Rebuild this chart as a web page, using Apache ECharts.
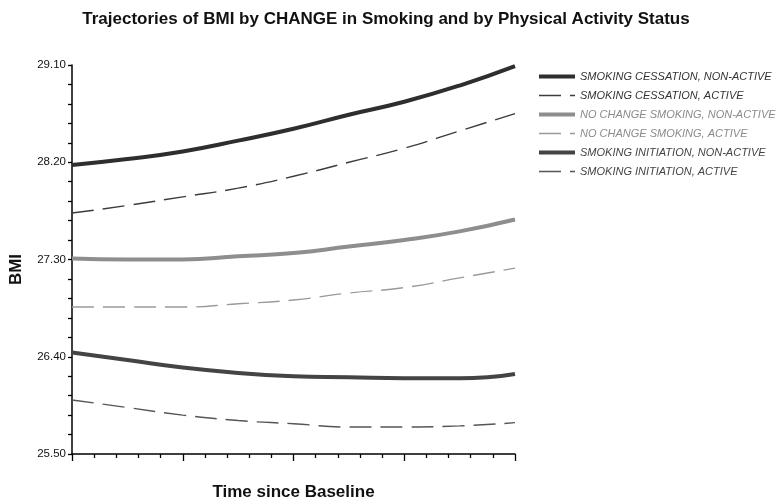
<!DOCTYPE html>
<html><head><meta charset="utf-8">
<script src="https://cdn.jsdelivr.net/npm/echarts@6/dist/echarts.min.js"></script>
<style>html,body{margin:0;padding:0;background:#fff}#c{width:782px;height:500px}</style>
</head><body><div id="c"></div>
<script>
const times = [0, 2.5, 5, 7.5, 10, 12.5, 15, 17.5, 20];
const seriesNames = [
  'SMOKING CESSATION, NON-ACTIVE',
  'SMOKING CESSATION, ACTIVE',
  'NO CHANGE SMOKING, NON-ACTIVE',
  'NO CHANGE SMOKING, ACTIVE',
  'SMOKING INITIATION, NON-ACTIVE',
  'SMOKING INITIATION, ACTIVE'
];
const cessationNonActive = [28.175, 28.23, 28.30, 28.40, 28.51, 28.64, 28.76, 28.91, 29.09];
const cessationActive    = [27.73, 27.80, 27.88, 27.96, 28.07, 28.20, 28.33, 28.49, 28.65];
const noChangeNonActive  = [27.31, 27.30, 27.30, 27.33, 27.36, 27.42, 27.48, 27.56, 27.67];
const noChangeActive     = [26.86, 26.86, 26.86, 26.89, 26.925, 26.99, 27.04, 27.13, 27.22];
const initiationNonActive= [26.44, 26.37, 26.30, 26.25, 26.22, 26.21, 26.20, 26.20, 26.24];
const initiationActive   = [26.00, 25.93, 25.86, 25.81, 25.78, 25.75, 25.75, 25.76, 25.79];
const yTickLabels = [25.5, 26.4, 27.3, 28.2, 29.1];

const values = [cessationNonActive, cessationActive, noChangeNonActive, noChangeActive, initiationNonActive, initiationActive];
const styles = [
  {color:'#2e2e2e', width:4, type:'solid'},
  {color:'#3c3c3c', width:1.4, type:[22,9]},
  {color:'#8e8e8e', width:4, type:'solid'},
  {color:'#9a9a9a', width:1.4, type:[22,9]},
  {color:'#444444', width:4, type:'solid'},
  {color:'#555555', width:1.4, type:[22,9]}
];
const textColors = ['#333','#333','#8a8a8a','#8a8a8a','#444','#444'];

const yMinorTicks = [];
for (let i = 0; i < yTickLabels.length - 1; i++) {
  const a = yTickLabels[i], b = yTickLabels[i+1];
  for (let k = 0; k < 5; k++) yMinorTicks.push(+(a + (b - a) * k / 5).toFixed(3));
}
yMinorTicks.push(yTickLabels[yTickLabels.length-1]);

const chart = echarts.init(document.getElementById('c'));
chart.setOption({
  animation: false,
  backgroundColor: '#fff',
  title: {
    text: 'Trajectories of BMI by CHANGE in Smoking and by Physical Activity Status',
    left: 381, top: 6, textAlign: 'center',
    textStyle: {fontFamily: 'Liberation Sans', fontWeight: 'bold', fontSize: 17, color: '#111'}
  },
  legend: {
    orient: 'vertical', left: 532, top: 66,
    itemWidth: 36, itemHeight: 10, itemGap: 8,
    itemStyle: {opacity: 0},
    lineStyle: {width: 'inherit'},
    data: seriesNames.map((n, i) => ({name: n, textStyle: {color: textColors[i]}})),
    textStyle: {fontFamily: 'Liberation Sans', fontStyle: 'italic', fontSize: 11, color: '#333'}
  },
  grid: {left: 72, right: 267, top: 65, bottom: 46, outerBoundsMode: 'none'},
  xAxis: {
    type: 'value', min: 0, max: 20, interval: 5,
    name: 'Time since Baseline', nameLocation: 'middle', nameGap: 30,
    nameTextStyle: {fontFamily: 'Liberation Sans', fontWeight: 'bold', fontSize: 17, color: '#111'},
    axisLine: {lineStyle: {color: '#000', width: 1.5}},
    axisTick: {show: true, length: 7, lineStyle: {color: '#000', width: 1.3}},
    minorTick: {show: true, splitNumber: 5, length: 4, lineStyle: {color: '#000', width: 1.3}},
    axisLabel: {show: false},
    splitLine: {show: false}, minorSplitLine: {show: false}
  },
  yAxis: {
    type: 'value', min: 25.5, max: 29.1,
    name: 'BMI', nameLocation: 'middle', nameGap: 47, nameRotate: 90,
    nameTextStyle: {fontFamily: 'Liberation Sans', fontWeight: 'bold', fontSize: 17, color: '#111', padding: [0, 0, 0, -20]},
    axisLine: {show: true, lineStyle: {color: '#000', width: 1.5}},
    axisTick: {show: true, customValues: yMinorTicks, length: 4, lineStyle: {color: '#000', width: 1.3}},
    axisLabel: {
      customValues: yTickLabels,
      formatter: v => v.toFixed(2),
      fontFamily: 'Liberation Sans', fontSize: 11.5, color: '#111', margin: 6
    },
    splitLine: {show: false}
  },
  series: seriesNames.map((n, i) => ({
    name: n, type: 'line', smooth: true, showSymbol: false, symbol: 'none',
    data: times.map((t, j) => [t, values[i][j]]),
    lineStyle: styles[i], itemStyle: {color: styles[i].color},
    z: 6 - i
  }))
});
</script></body></html>
